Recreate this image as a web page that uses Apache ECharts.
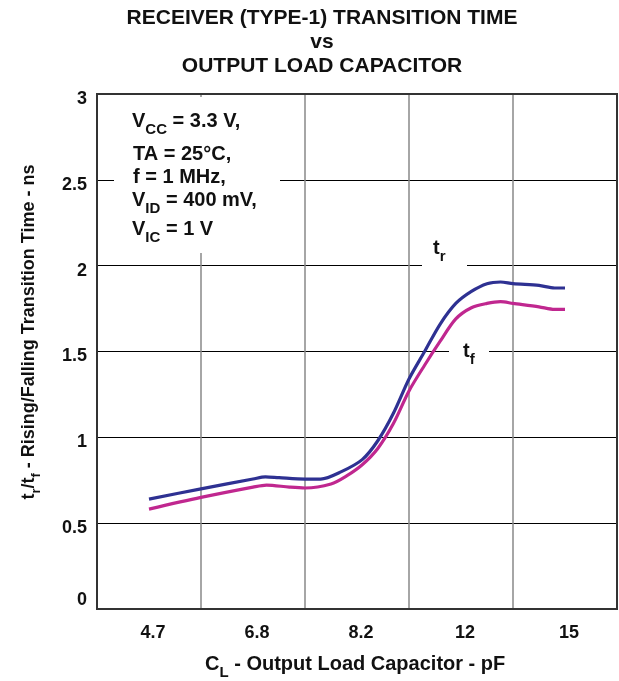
<!DOCTYPE html>
<html><head><meta charset="utf-8">
<script src="https://cdn.jsdelivr.net/npm/echarts@6/dist/echarts.min.js"></script>
<style>html,body{margin:0;padding:0;background:#fff}#c{width:619px;height:681px}</style>
</head><body><div id="c"></div>
<script>
var categories = ['4.7', '6.8', '8.2', '12', '15'];
// x positions in category-index units (0 = 4.7, 4 = 15)
var trX = [0, 0.5, 1.0, 1.12, 1.25, 1.5, 1.65, 1.85, 2.05, 2.2, 2.35, 2.5, 2.65, 2.8, 2.95, 3.1, 3.25, 3.38, 3.5, 3.75, 3.9, 4.0];
var trY = [0.64, 0.70, 0.757, 0.77, 0.765, 0.757, 0.757, 0.80, 0.87, 0.98, 1.14, 1.34, 1.50, 1.66, 1.78, 1.85, 1.895, 1.905, 1.895, 1.885, 1.87, 1.87];
var tfX = [0, 0.5, 1.0, 1.13, 1.35, 1.5, 1.75, 1.9, 2.05, 2.2, 2.35, 2.5, 2.65, 2.8, 2.95, 3.1, 3.25, 3.38, 3.5, 3.75, 3.9, 4.0];
var tfY = [0.582, 0.65, 0.71, 0.722, 0.71, 0.705, 0.728, 0.775, 0.84, 0.935, 1.08, 1.27, 1.42, 1.56, 1.69, 1.755, 1.78, 1.79, 1.78, 1.76, 1.745, 1.745];

function pairs(xs, ys) { return xs.map(function (x, i) { return [x, ys[i]]; }); }

var FONT = 'Liberation Sans, Arial, sans-serif';
var mctx = document.createElement('canvas').getContext('2d');
function tw(text, size) { mctx.font = 'bold ' + size + 'px ' + FONT; return mctx.measureText(text).width; }

// parts: array of [text, isSub]; x = left, y = cap-centre of main text
function seq(x, y, parts, size, subSize, drop) {
  var out = [], cx = x;
  parts.forEach(function (p) {
    var sz = p[1] ? subSize : size;
    out.push({ type: 'text', x: cx, y: y + (p[1] ? drop : 0), z: 6,
      style: { text: p[0], fontSize: sz, fontWeight: 'bold', fontFamily: FONT, fill: '#111', align: 'left', verticalAlign: 'middle' } });
    cx += tw(p[0], sz);
  });
  return out;
}
function seqWidth(parts, size, subSize) {
  return parts.reduce(function (a, p) { return a + tw(p[0], p[1] ? subSize : size); }, 0);
}

var chart = echarts.init(document.getElementById('c'));

var yNameParts = [['t', 0], ['r', 1], ['/t', 0], ['f', 1], [' - Rising/Falling Transition Time - ns', 0]];
var yNameW = seqWidth(yNameParts, 18, 13);

var graphics = [
  { type: 'rect', shape: { x: 97, y: 94, width: 520, height: 515 }, style: { fill: 'none', stroke: '#333', lineWidth: 2 }, z: 10 },
  { type: 'rect', shape: { x: 114, y: 97, width: 166, height: 156 }, style: { fill: '#fff' }, z: 5 },
  { type: 'rect', shape: { x: 422, y: 255, width: 45, height: 20 }, style: { fill: '#fff' }, z: 5 },
  { type: 'rect', shape: { x: 449, y: 342, width: 40, height: 20 }, style: { fill: '#fff' }, z: 5 }
].concat(
  seq(132, 121, [['V', 0], ['CC', 1], [' = 3.3 V,', 0]], 20, 15, 9),
  seq(133, 154, [['TA = 25°C,', 0]], 20, 15, 9),
  seq(133, 177, [['f = 1 MHz,', 0]], 20, 15, 9),
  seq(132, 200, [['V', 0], ['ID', 1], [' = 400 mV,', 0]], 20, 15, 9),
  seq(132, 229, [['V', 0], ['IC', 1], [' = 1 V', 0]], 20, 15, 9),
  seq(433, 248, [['t', 0], ['r', 1]], 20, 15, 9),
  seq(463, 351, [['t', 0], ['f', 1]], 20, 15, 9),
  seq(205, 664, [['C', 0], ['L', 1], [' - Output Load Capacitor - pF', 0]], 20, 15, 9),
  [{ type: 'group', x: 29, y: 332, rotation: Math.PI / 2, children: seq(-yNameW / 2, 0, yNameParts, 18, 13, 7) }]
);

chart.setOption({
  animation: false,
  title: {
    text: 'RECEIVER (TYPE-1) TRANSITION TIME\nvs\nOUTPUT LOAD CAPACITOR',
    left: 317, top: 1, textAlign: 'center',
    textStyle: { fontSize: 21, fontWeight: 'bold', fontFamily: FONT, color: '#111', lineHeight: 24 }
  },
  grid: { left: 97, right: 2, top: 94, bottom: 72 },
  xAxis: [{
    type: 'category', data: categories, boundaryGap: true,
    axisLine: { onZero: false, lineStyle: { color: '#333', width: 2 } },
    axisTick: { show: false },
    axisLabel: { fontSize: 18, fontWeight: 'bold', fontFamily: FONT, color: '#111', margin: 15, padding: [0, 0, 0, 8] },
    splitLine: { show: true, lineStyle: { color: '#888', width: 1.5 } }
  }, {
    type: 'value', min: -0.5, max: 4.5, show: false, splitLine: { show: false }
  }],
  yAxis: {
    type: 'value', min: 0, max: 3, interval: 0.5,
    axisLine: { show: true, onZero: false, lineStyle: { color: '#333', width: 2 } },
    axisTick: { show: false },
    axisLabel: {
      fontSize: 18, fontWeight: 'bold', fontFamily: FONT, color: '#111', margin: 10,
      formatter: function (v) { return v === 0 ? '{z|0}' : '{n|' + v + '}'; },
      rich: {
        n: { fontSize: 18, fontWeight: 'bold', fontFamily: FONT, color: '#111', padding: [10, 0, 0, 0] },
        z: { fontSize: 18, fontWeight: 'bold', fontFamily: FONT, color: '#111', padding: [0, 0, 18, 0] }
      }
    },
    splitLine: { show: true, lineStyle: { color: '#000', width: 1.2 } }
  },
  graphic: graphics,
  series: [
    { name: 'tr', type: 'line', xAxisIndex: 1, data: pairs(trX, trY), smooth: 0.3, showSymbol: false,
      lineStyle: { color: '#2e3192', width: 3.2 }, z: 3 },
    { name: 'tf', type: 'line', xAxisIndex: 1, data: pairs(tfX, tfY), smooth: 0.3, showSymbol: false,
      lineStyle: { color: '#c0278f', width: 3.2 }, z: 3 }
  ]
});
</script></body></html>
